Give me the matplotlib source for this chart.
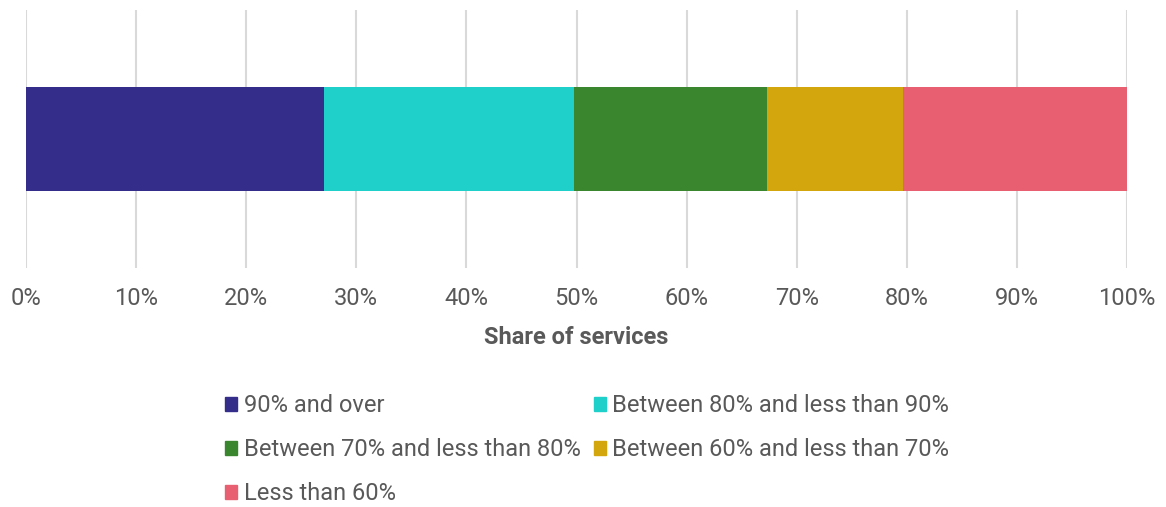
import matplotlib.pyplot as plt
from matplotlib.patches import Patch

# share of services per band (%)
categories = ['90% and over', 'Between 80% and less than 90%',
              'Between 70% and less than 80%', 'Between 60% and less than 70%',
              'Less than 60%']
shares = [27.1, 22.7, 17.5, 12.4, 20.3]
colors = ['#352d8a', '#1ed0c9', '#3a862f', '#d4a60d', '#e85f72']
ticks = [0, 10, 20, 30, 40, 50, 60, 70, 80, 90, 100]
tick_labels = [f'{t}%' for t in ticks]

plt.rcParams['font.family'] = ['Roboto', 'DejaVu Sans']
txt = '#595959'

fig = plt.figure(figsize=(11.66, 5.07), dpi=100)
ax = fig.add_axes([26 / 1166, 1 - 268 / 507, 1101 / 1166, 258 / 507])

left = 0
for cat, val, col in zip(categories, shares, colors):
    ax.barh(0, val, left=left, height=0.4, color=col, label=cat, zorder=3)
    left += val

ax.set_xlim(0, 100)
ax.set_ylim(-0.5, 0.5)
ax.set_xticks(ticks)
ax.set_xticklabels(tick_labels)
ax.set_yticks([])
ax.tick_params(axis='x', length=0, pad=14, labelsize=17, labelcolor=txt)
ax.grid(axis='x', color='#d9d9d9', linewidth=1.5, zorder=0)
for s in ax.spines.values():
    s.set_visible(False)
ax.set_xlabel('Share of services', fontsize=17, fontweight='bold', color=txt, labelpad=11)

handles = [Patch(color=c) for c in colors]
order = [0, 2, 4, 1, 3]
leg = fig.legend([handles[i] for i in order], [categories[i] for i in order],
                 ncol=2, loc='upper left', bbox_to_anchor=(225 / 1166, 1 - 394 / 507),
                 frameon=False, fontsize=17, handlelength=0.52, handleheight=0.52,
                 handletextpad=0.27, columnspacing=0.55, labelspacing=0.9,
                 borderpad=0, borderaxespad=0)
for t in leg.get_texts():
    t.set_color(txt)

fig.savefig('out.png', dpi=100)
